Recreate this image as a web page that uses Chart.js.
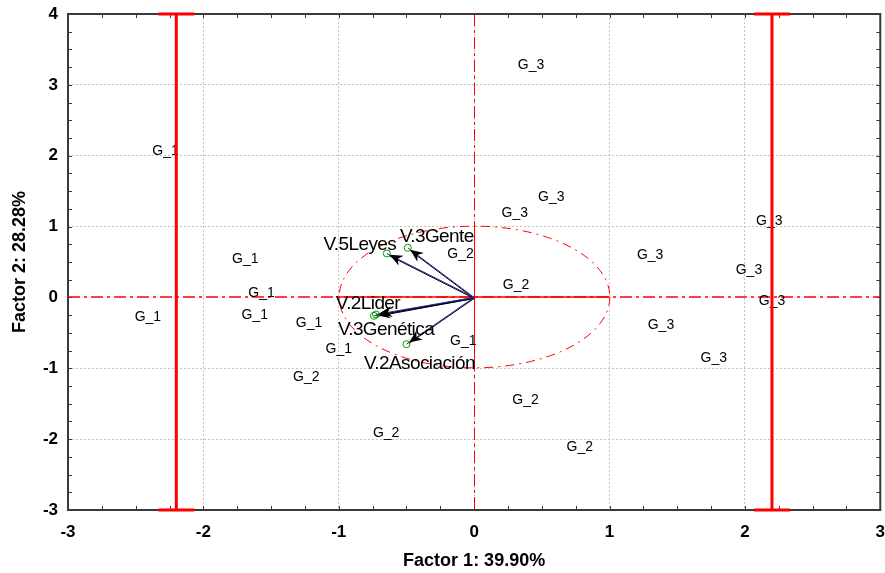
<!DOCTYPE html>
<html>
<head>
<meta charset="utf-8">
<script src="https://cdn.jsdelivr.net/npm/chart.js@4.4.0/dist/chart.umd.min.js"></script>
<style>
  html, body { margin: 0; padding: 0; background: #fff; }
</style>
</head>
<body>
<canvas id="biplot" width="885" height="573"></canvas>
<script>
// case scores on the two factors, with the group each case belongs to
const caseLabels = ['G_1', 'G_1', 'G_1', 'G_1', 'G_1', 'G_1', 'G_1', 'G_2', 'G_2', 'G_1', 'G_2', 'G_2',
                    'G_2', 'G_2', 'G_3', 'G_3', 'G_3', 'G_3', 'G_3', 'G_3', 'G_3', 'G_3', 'G_3'];
const caseF1 = [-2.28, -1.69, -1.57, -2.41, -1.62, -1.22, -1.00, -1.24, -0.65, -0.08, -0.10, 0.31,
                0.38, 0.78, 0.42, 0.57, 0.30, 1.30, 2.18, 2.03, 2.20, 1.38, 1.77];
const caseF2 = [2.08, 0.56, 0.08, -0.26, -0.24, -0.35, -0.72, -1.11, -1.90, -0.60, 0.63, 0.19,
                -1.43, -2.10, 3.29, 1.43, 1.21, 0.61, 1.09, 0.40, -0.04, -0.37, -0.84];

// variable loadings (arrows)
const varNames = ['V.3Gente', 'V.5Leyes', 'V.2Lider', 'V.3Genética', 'V.2Asociación'];
const varF1 = [-0.49, -0.645, -0.74, -0.725, -0.50];
const varF2 = [0.70, 0.62, -0.26, -0.24, -0.66];

// red range bars
const barF1 = [-2.2, 2.2];
const barRange = [-3, 4];

// axis ticks
const xTickValues = [-3, -2, -1, 0, 1, 2, 3];
const yTickValues = [-3, -2, -1, 0, 1, 2, 3, 4];

// label offsets in px for the variable names (relative to arrow end)
const varLabelOffset = [[29, -13], [-27, -10], [-6, -14], [10, 14], [13, 18]];

function arrowHead(ctx, fx, fy, tx, ty, len, half) {
  const ang = Math.atan2(ty - fy, tx - fx);
  const c = Math.cos(ang), s = Math.sin(ang);
  const bx = tx - c * len, by = ty - s * len;
  ctx.beginPath();
  ctx.moveTo(tx, ty);
  ctx.lineTo(bx - s * half, by + c * half);
  ctx.lineTo(tx - c * len * 0.7, ty - s * len * 0.7);
  ctx.lineTo(bx + s * half, by - c * half);
  ctx.closePath();
  ctx.fill();
}

// red lines through the origin and the unit circle
function drawOriginLines(chart) {
  const { ctx, chartArea: a, scales: { x, y } } = chart;
  const x0 = x.getPixelForValue(0), y0 = y.getPixelForValue(0);
  const cx = Math.round(x0) + 0.5, cy = Math.round(y0);
  ctx.save();
  ctx.beginPath();
  ctx.rect(a.left, a.top, a.width, a.height);
  ctx.clip();
  ctx.strokeStyle = '#ff0000';
  ctx.setLineDash([12, 4, 3, 4]);
  ctx.lineWidth = 1.4;
  ctx.beginPath();
  ctx.moveTo(a.left, cy); ctx.lineTo(a.right, cy);
  ctx.stroke();
  ctx.lineWidth = 1;
  ctx.beginPath();
  ctx.moveTo(cx, a.top); ctx.lineTo(cx, a.bottom);
  ctx.stroke();

  const rx = x.getPixelForValue(1) - x0;
  const ry = y0 - y.getPixelForValue(1);
  ctx.setLineDash([9, 5, 2, 5]);
  ctx.beginPath();
  ctx.ellipse(cx, cy, rx, ry, 0, 0, Math.PI * 2);
  ctx.stroke();
  ctx.setLineDash([]);
  ctx.lineWidth = 1.4;
  ctx.beginPath();
  ctx.moveTo(x.getPixelForValue(-1), cy); ctx.lineTo(x.getPixelForValue(1), cy);
  ctx.stroke();
  ctx.lineWidth = 1;
  ctx.beginPath();
  ctx.moveTo(cx, y.getPixelForValue(1)); ctx.lineTo(cx, y.getPixelForValue(-1));
  ctx.stroke();
  ctx.restore();
}

const biplotDecor = {
  id: 'biplotDecor',
  beforeDatasetsDraw(chart) {
    const { ctx, chartArea: a, scales: { x, y } } = chart;
    const x0 = x.getPixelForValue(0), y0 = y.getPixelForValue(0);
    ctx.save();

    // frame and small inner ticks
    ctx.strokeStyle = '#3a3a3a';
    ctx.lineWidth = 2;
    ctx.strokeRect(a.left, a.top, a.width, a.height);
    ctx.lineWidth = 1;
    ctx.beginPath();
    for (let v = x.min; v <= x.max + 1e-9; v += 0.25) {
      const px = Math.round(x.getPixelForValue(v)) + 0.5;
      ctx.moveTo(px, a.bottom); ctx.lineTo(px, a.bottom - 4);
      ctx.moveTo(px, a.top); ctx.lineTo(px, a.top + 4);
    }
    for (let v = y.min; v <= y.max + 1e-9; v += 0.25) {
      const py = Math.round(y.getPixelForValue(v)) + 0.5;
      ctx.moveTo(a.left, py); ctx.lineTo(a.left + 4, py);
      ctx.moveTo(a.right, py); ctx.lineTo(a.right - 4, py);
    }
    ctx.stroke();
    ctx.restore();

    drawOriginLines(chart);

    ctx.save();
    // case labels
    ctx.fillStyle = '#000';
    ctx.font = '14px "Liberation Sans", Arial, sans-serif';
    ctx.textAlign = 'center';
    ctx.textBaseline = 'alphabetic';
    chart.getDatasetMeta(0).data.forEach((pt, i) => {
      ctx.fillText(caseLabels[i], pt.x, pt.y + 5);
    });

    // variable arrows
    const vmeta = chart.getDatasetMeta(1);
    vmeta.data.forEach((pt, i) => {
      const dx = pt.x - x0, dy = pt.y - y0;
      const d = Math.hypot(dx, dy);
      const tx = pt.x - dx / d * 3, ty = pt.y - dy / d * 3;
      ctx.lineWidth = 1;
      ctx.strokeStyle = '#2a2ab0';
      ctx.beginPath(); ctx.moveTo(x0, y0); ctx.lineTo(pt.x, pt.y); ctx.stroke();
      ctx.strokeStyle = '#000';
      ctx.beginPath(); ctx.moveTo(x0, y0 + 1); ctx.lineTo(tx, ty + 1); ctx.stroke();
      ctx.fillStyle = '#000';
      arrowHead(ctx, x0, y0, tx, ty, 13, 5.5);
    });

    ctx.fillStyle = '#000';
    ctx.font = '19px "Liberation Sans", Arial, sans-serif';
    ctx.letterSpacing = '-0.6px';
    vmeta.data.forEach((pt, i) => {
      const [ox, oy] = varLabelOffset[i];
      ctx.fillText(varNames[i], pt.x + ox, pt.y + oy + 7);
    });
    ctx.restore();
  }
};

const cases = caseF1.map((v, i) => ({ x: v, y: caseF2[i] }));
const vars = varF1.map((v, i) => ({ x: v, y: varF2[i] }));
const bars = barF1.map(bx => ({
  type: 'line',
  data: barRange.map(by => ({ x: bx, y: by })),
  borderColor: '#ff0000',
  borderWidth: 3,
  pointStyle: 'line',
  pointRadius: 18,
  pointBorderWidth: 3,
  pointBorderColor: '#ff0000',
  clip: false,
  order: 0
}));

const tickFont = { family: '"Liberation Sans", Arial, sans-serif', size: 17, weight: 'bold' };
const titleFont = { family: '"Liberation Sans", Arial, sans-serif', size: 18, weight: 'bold' };

new Chart(document.getElementById('biplot').getContext('2d'), {
  type: 'scatter',
  data: {
    datasets: [
      { data: cases, pointRadius: 0, pointHoverRadius: 0, order: 2 },
      { data: vars, pointRadius: 3.5, pointBorderWidth: 1, pointBorderColor: '#00a000',
        pointBackgroundColor: 'rgba(0,0,0,0)', order: 1 },
      ...bars
    ]
  },
  options: {
    responsive: false,
    animation: false,
    layout: { autoPadding: false, padding: { top: 14, right: 4, left: 0, bottom: 0 } },
    plugins: { legend: { display: false }, tooltip: { enabled: false } },
    scales: {
      x: {
        type: 'linear', min: -3, max: 3,
        afterBuildTicks: s => { s.ticks = xTickValues.map(v => ({ value: v })); },
        afterFit: s => { s.height = 63; },
        grid: { color: '#c4c4c4', tickLength: 12, tickColor: 'rgba(0,0,0,0)' },
        border: { display: false, dash: [2, 2] },
        ticks: { padding: 0, color: '#000', font: tickFont },
        title: { display: true, text: 'Factor 1: 39.90%', color: '#000', font: titleFont,
                 padding: { top: 0, bottom: 1 } }
      },
      y: {
        type: 'linear', min: -3, max: 4,
        afterBuildTicks: s => { s.ticks = yTickValues.map(v => ({ value: v })); },
        afterFit: s => { s.width = 68; },
        grid: {
          color: ctx => (ctx.tick && ctx.tick.value === 0 ? 'rgba(0,0,0,0)' : '#c4c4c4'),
          tickLength: 10, tickColor: 'rgba(0,0,0,0)'
        },
        border: { display: false, dash: [2, 2] },
        ticks: { padding: 0, color: '#000', font: tickFont },
        title: { display: true, text: 'Factor 2: 28.28%', color: '#000', font: titleFont,
                 padding: { top: 9, bottom: 0 } }
      }
    }
  },
  plugins: [biplotDecor]
});
</script>
</body>
</html>
